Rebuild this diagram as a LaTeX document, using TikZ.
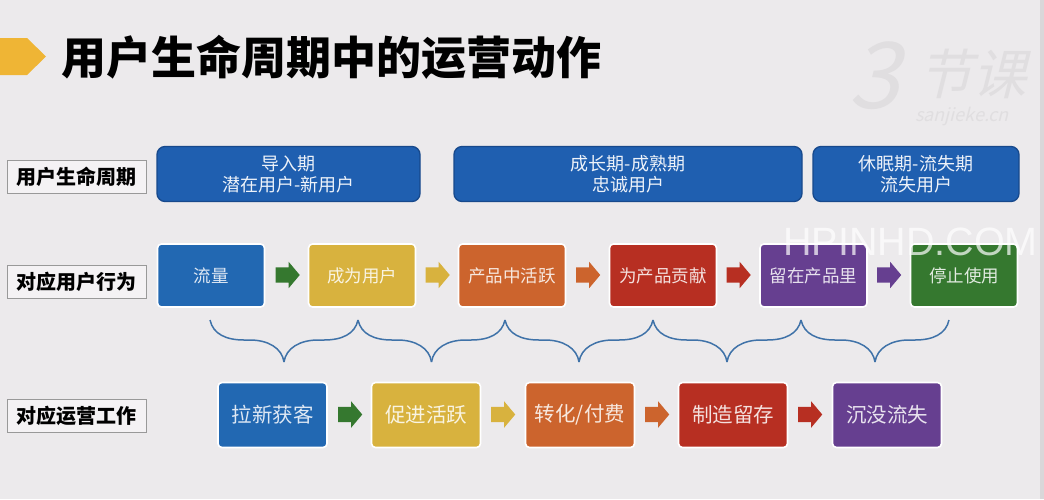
\documentclass[tikz,border=0pt]{standalone}
\usepackage{fontspec}
\setmainfont{Noto Sans CJK SC}
\newfontfamily\wmfont{Liberation Sans}
\newfontfamily\logofont[FakeSlant=0.25]{Noto Sans CJK SC}
\usetikzlibrary{shapes.arrows}

\definecolor{pagebg}{HTML}{ECEAEC}
\definecolor{markcol}{HTML}{EFB535}
\definecolor{headblue}{HTML}{1F5FB0}
\definecolor{headedge}{HTML}{17498C}
\definecolor{cblue}{HTML}{2268B2}
\definecolor{cyellow}{HTML}{D8B23E}
\definecolor{corange}{HTML}{CC642D}
\definecolor{cred}{HTML}{B72F22}
\definecolor{cpurple}{HTML}{663F90}
\definecolor{cgreen}{HTML}{35782F}
\definecolor{bracecol}{HTML}{3F72A8}

\tikzset{
  rowlabel/.style={draw=black!40, fill=white!40!pagebg, line width=0.7pt, minimum width=139pt, minimum height=33pt,
    inner sep=0pt, font=\fontsize{20}{21}\selectfont\bfseries},
  phase/.style={draw=headedge, fill=headblue, line width=1.3pt, rounded corners=8pt, minimum height=55pt, inner sep=0pt,
    text=white!92!headblue, align=center, font=\fontsize{18}{21}\selectfont},
  stage/.style={draw=white, fill=#1, line width=1.6pt, rounded corners=4pt, minimum width=107pt, minimum height=63pt,
    inner sep=0pt, text=white!85!#1, font=\fontsize{17.5}{20}\selectfont},
  work/.style={stage=#1, minimum width=109pt, minimum height=65pt, font=\fontsize{20.5}{22}\selectfont},
  flowarrow/.style={single arrow, draw=none, fill=#1, inner xsep=0pt, inner ysep=7.5pt, minimum width=26pt, minimum height=24pt,
    single arrow head extend=5.5pt, single arrow tip angle=100, single arrow head indent=0pt},
  bracket/.style={draw=bracecol, line width=1.5pt},
  logotext/.style={inner sep=0pt, text=black!5!pagebg}
}

\begin{document}
\begin{tikzpicture}[x=1pt, y=-1pt]

    \fill [pagebg] (0, 0) rectangle (1044, 499);
    \fill [black!8!pagebg] (1040, 0) rectangle (1044, 499);
    \useasboundingbox (0, 0) rectangle (1044, 499);

    % watermark behind the boxes
    \node (logo) [logotext] at (972, 74) {\logofont\fontsize{54}{30}\selectfont 节课};
    \node (logonum) [logotext] at (874, 76) {\logofont\fontsize{92}{50}\selectfont 3};
    \node (logourl) [logotext] at (962, 117) {\logofont\fontsize{18}{12}\selectfont sanjieke.cn};

    % title
    \fill [markcol] (0, 38) -- (27, 38) -- (46, 56.5) -- (27, 75) -- (0, 75) -- cycle;
    \node (title) at (331, 57) {\fontsize{45}{48}\selectfont\bfseries 用户生命周期中的运营动作};

    % row labels
    \node (lifecycle) [rowlabel] at (76.5, 176.5) {用户生命周期};
    \node (behavior) [rowlabel] at (76.5, 282) {对应用户行为};
    \node (operation) [rowlabel] at (76.5, 416) {对应运营工作};

    % phases
    \node (intro) [phase, minimum width=263pt] at (288.5, 174) {导入期\\潜在用户-新用户};
    \node (grow) [phase, minimum width=348pt] at (628, 174) {成长期-成熟期\\忠诚用户};
    \node (sleep) [phase, minimum width=206pt] at (916, 174) {休眠期-流失期\\流失用户};

    % user behaviour
    \node (traffic) [stage=cblue] at (211, 275.5) {流量};
    \node (signup) [stage=cyellow] at (362, 275.5) {成为用户};
    \node (active) [stage=corange] at (512, 275.5) {产品中活跃};
    \node (give) [stage=cred] at (663, 275.5) {为产品贡献};
    \node (stay) [stage=cpurple] at (813.5, 275.5) {留在产品里};
    \node (stop) [stage=cgreen] at (964, 275.5) {停止使用};

    \node (ua) [flowarrow=cgreen] at (284.5, 275) {};
    \node (ub) [flowarrow=cyellow] at (434.5, 275) {};
    \node (uc) [flowarrow=corange] at (585, 275) {};
    \node (ud) [flowarrow=cred] at (735.5, 275) {};
    \node (ue) [flowarrow=cpurple] at (886, 275) {};

    % braces
    \foreach \xa/\xb/\name in {210/358/a, 358/505/b, 505/653/c, 653/801/d, 801/949/e} {
      \pgfmathsetmacro{\xm}{(\xa+\xb)/2}
      \coordinate (\name l) at (\xa, 320);
      \coordinate (\name r) at (\xb, 320);
      \coordinate (\name t) at (\xm, 362);
      \draw [bracket] (\name l) .. controls (\xa+3, 334) and (\xa+16, 340) .. (\xa+34, 340)
        -- (\xm-34, 340) .. controls (\xm-16, 340) and (\xm-2, 348) .. (\name t);
      \draw [bracket] (\name r) .. controls (\xb-3, 334) and (\xb-16, 340) .. (\xb-34, 340)
        -- (\xm+34, 340) .. controls (\xm+16, 340) and (\xm+2, 348) .. (\name t);
    }

    % operations
    \node (acquire) [work=cblue] at (272.5, 415) {拉新获客};
    \node (promote) [work=cyellow] at (426, 415) {促进活跃};
    \node (convert) [work=corange] at (580, 415) {转化/付费};
    \node (retain) [work=cred] at (733, 415) {制造留存};
    \node (churn) [work=cpurple] at (887, 415) {沉没流失};

    \node (oa) [flowarrow=cgreen] at (347, 414.5) {};
    \node (ob) [flowarrow=cyellow] at (500, 414.5) {};
    \node (oc) [flowarrow=corange] at (654, 414.5) {};
    \node (od) [flowarrow=cred] at (807, 414.5) {};

    % site mark on top
    \node (site) [opacity=0.7, text=white] at (910.5, 242) {\wmfont\fontsize{39.5}{40}\selectfont HPINHD.COM};

  \end{tikzpicture}
\end{document}
